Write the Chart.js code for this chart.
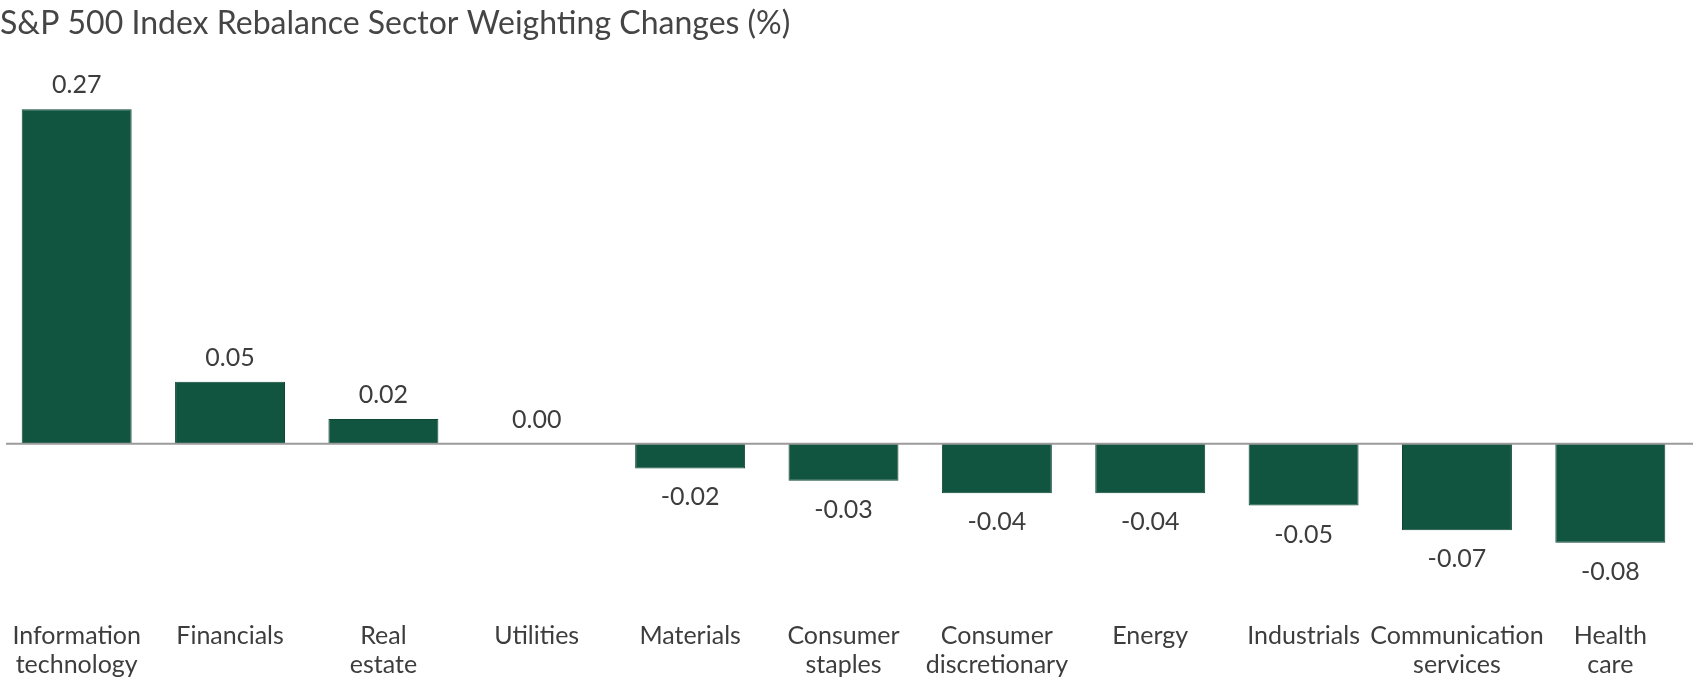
<!DOCTYPE html>
<html>
<head>
<meta charset="utf-8">
<script src="https://cdn.jsdelivr.net/npm/chart.js@4.4.1/dist/chart.umd.min.js"></script>
<style>
  html, body { margin: 0; padding: 0; background: #ffffff; }
  #wrap { width: 1700px; height: 683px; }
</style>
</head>
<body>
<div id="wrap"><canvas id="myChart" width="1700" height="683"></canvas></div>
<script>
// sectors and their weighting changes (%)
var sectors = [
	["Information", "technology"],
	"Financials",
	["Real", "estate"],
	"Utilities",
	"Materials",
	["Consumer", "staples"],
	["Consumer", "discretionary"],
	"Energy",
	"Industrials",
	["Communication", "services"],
	["Health", "care"]
];
var changes = [0.27, 0.05, 0.02, 0.00, -0.02, -0.03, -0.04, -0.04, -0.05, -0.07, -0.08];

var fontFamily = "Lato, 'Noto Sans', sans-serif";
var textColor = "#3d3d3d";

// draws the value above / below each bar
var valueLabels = {
	id: "valueLabels",
	afterDatasetsDraw: function(chart) {
		var ctx = chart.ctx;
		var meta = chart.getDatasetMeta(0);
		ctx.save();
		ctx.font = "25px " + fontFamily;
		ctx.fillStyle = textColor;
		ctx.textAlign = "center";
		ctx.textBaseline = "middle";
		meta.data.forEach(function(bar, i) {
			var v = changes[i];
			var y = v < 0 ? bar.y + 29 : bar.y - 24;
			ctx.fillText(v.toFixed(2), bar.x, y);
		});
		ctx.restore();
	}
};

// grey zero line across the plot
var zeroLine = {
	id: "zeroLine",
	afterDatasetsDraw: function(chart) {
		var ctx = chart.ctx;
		var y = chart.scales.y.getPixelForValue(0);
		ctx.save();
		ctx.strokeStyle = "#9b9b9b";
		ctx.lineWidth = 2;
		ctx.beginPath();
		ctx.moveTo(chart.chartArea.left + 6, y);
		ctx.lineTo(chart.width - 7, y);
		ctx.stroke();
		ctx.restore();
	}
};

var ctx = document.getElementById("myChart");

var myChart = new Chart(ctx, {
	type: "bar",
	data: {
		labels: sectors,
		datasets: [
			{
				label: "Weighting change",
				data: changes,
				backgroundColor: "#115440",
				borderColor: "#0e4736",
				borderWidth: 1,
				barPercentage: 0.717,
				categoryPercentage: 1
			}
		]
	},
	options: {
		responsive: false,
		animation: false,
		layout: { padding: { left: 0, right: 13, top: 0, bottom: 0 } },
		plugins: {
			legend: { display: false },
			tooltip: { enabled: false },
			title: {
				display: true,
				text: "S&P 500 Index Rebalance Sector Weighting Changes (%)",
				align: "start",
				color: "#454545",
				font: { family: fontFamily, size: 32, weight: "normal", lineHeight: 1.1 },
				padding: { top: 6, bottom: 31 }
			}
		},
		scales: {
			x: {
				grid: { display: false, drawTicks: false },
				border: { display: false },
				ticks: {
					color: textColor,
					font: { family: fontFamily, size: 25, lineHeight: 1.16 },
					padding: 4,
					maxRotation: 0,
					autoSkip: false
				}
			},
			y: {
				display: false,
				min: -0.14,
				max: 0.3
			}
		}
	},
	plugins: [valueLabels, zeroLine]
});
</script>
</body>
</html>
